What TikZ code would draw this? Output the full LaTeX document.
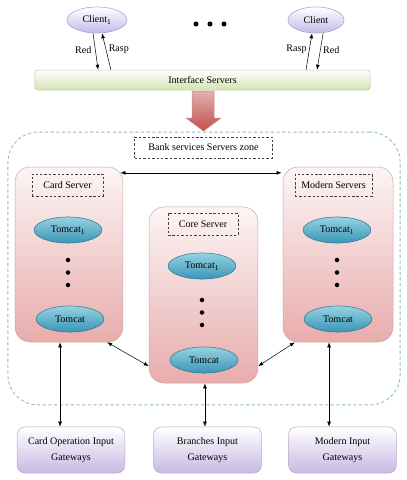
\documentclass[tikz,border=0pt]{standalone}
\usepackage{fontspec}
\setmainfont{Liberation Serif}
\usetikzlibrary{arrows.meta, positioning, shapes.geometric}

\definecolor{clientfill}{RGB}{196,186,232}
\definecolor{clientline}{RGB}{165,155,200}
\definecolor{catfill}{RGB}{58,150,182}
\definecolor{cattop}{RGB}{150,210,226}
\definecolor{catline}{RGB}{45,115,145}
\definecolor{panelfill}{RGB}{232,172,172}
\definecolor{panelline}{RGB}{205,165,165}
\definecolor{gatefill}{RGB}{200,185,226}
\definecolor{gateline}{RGB}{180,170,205}
\definecolor{ifacefill}{RGB}{212,226,178}
\definecolor{ifaceline}{RGB}{188,204,158}
\definecolor{zoneline}{RGB}{140,188,200}
\definecolor{bigarrow}{RGB}{192,80,77}

\begin{document}
\begin{tikzpicture}[x=0.028cm, y=-0.028cm, every node/.style={font=\footnotesize},
    client/.style={ellipse, draw=clientline, top color=white, bottom color=clientfill, minimum width=1.68cm, minimum height=0.73cm, inner sep=0pt},
    tomcat/.style={ellipse, draw=catline, top color=cattop, bottom color=catfill, minimum width=1.9cm, minimum height=0.73cm, inner sep=0pt},
    panel/.style={draw=panelline, rounded corners=0.42cm, top color=panelfill!12, bottom color=panelfill, minimum height=4.9cm},
    tag/.style={draw=black!75, dashed, dash pattern=on 2pt off 1.5pt, minimum height=0.62cm, inner sep=1pt},
    gate/.style={draw=gateline, rounded corners=0.22cm, top color=white, bottom color=gatefill, minimum width=3.02cm, minimum height=1.29cm, align=center},
    arr/.style={-{Latex[length=4pt,width=3pt]}, thin},
    darr/.style={{Latex[length=4pt,width=3pt]}-{Latex[length=4pt,width=3pt]}, thin},
    lbl/.style={inner sep=1pt}]
    \useasboundingbox (0,0) rectangle (407,480);

    % clients and interface
    \node[client] (c1) at (97,20) {Client\textsubscript{1}};
    \node[client, minimum width=1.57cm] (c2) at (316,20) {Client};
    \foreach \x in {196,210,224} \fill (\x,24) circle (2pt);
    \node[draw=ifaceline, rounded corners=2pt, top color=white, bottom color=ifacefill, minimum width=9.38cm, minimum height=0.56cm] (iface) at (202.5,80) {Interface Servers};

    \draw[arr] ([xshift=-0.11cm]c1.south) -- ([xshift=0.03cm]c1.south |- iface.north) node[lbl, pos=0.45, left=2pt] {Red};
    \draw[arr] ([xshift=0.39cm]c1.south |- iface.north) -- ([xshift=0.14cm]c1.south) node[lbl, pos=0.55, right=1pt] {Rasp};
    \draw[arr] ([xshift=-0.28cm]c2.south |- iface.north) -- ([xshift=-0.11cm]c2.south) node[lbl, pos=0.55, left=1pt] {Rasp};
    \draw[arr] ([xshift=0.2cm]c2.south) -- ([xshift=0.03cm]c2.south |- iface.north) node[lbl, pos=0.45, right=1pt] {Red};

    % servers zone
    \node[draw=zoneline, dashed, dash pattern=on 2.5pt off 2pt, line width=0.7pt, rounded corners=0.84cm, minimum width=10.98cm, minimum height=7.64cm] (zone) at (204,268.5) {};
    \path[draw=bigarrow!70, top color=bigarrow!45, bottom color=bigarrow] (192,91) -- (214,91) -- (214,118) -- (221,118) -- (203.5,131) -- (186,118) -- (192,118) -- cycle;
    \node[tag, minimum width=3.86cm, minimum height=0.59cm] (zonetag) at (203.5,147.5) {Bank services Servers zone};

    \node[panel, minimum width=3.02cm] (card) at (69,254.5) {};
    \node[panel, minimum width=3.05cm, minimum height=4.93cm] (core) at (203.5,295) {};
    \node[panel, minimum width=3.08cm] (modern) at (338,254.5) {};

    \node[tag, minimum width=1.99cm] (cardtag) at (67.5,185) {Card Server};
    \node[tag, minimum width=1.96cm] (coretag) at (203,224) {Core Server};
    \node[tag, minimum width=2.16cm] (moderntag) at (333.5,185) {Modern Servers};

    \node[tomcat] (card1) at (68,230) {Tomcat\textsubscript{1}};
    \node[tomcat] (cardn) at (70,319) {Tomcat};
    \node[tomcat] (core1) at (202,266) {Tomcat\textsubscript{1}};
    \node[tomcat] (coren) at (204,360) {Tomcat};
    \node[tomcat] (modern1) at (337,230) {Tomcat\textsubscript{1}};
    \node[tomcat] (modernn) at (338,319) {Tomcat};
    \foreach \x/\y in {68/260, 202/300, 337/260}
      \foreach \d in {0,12.5,25} \fill (\x,\y+\d) circle (1.8pt);

    \draw[darr] ([xshift=-0.08cm, yshift=-0.17cm]card.north east) -- ([xshift=-0.03cm, yshift=-0.17cm]modern.north west);
    \draw[darr] ([xshift=-0.45cm]card.south east) -- ([yshift=0.48cm]core.south west);
    \draw[darr] ([yshift=0.48cm]core.south east) -- ([xshift=0.34cm]modern.south west);

    % input gateways
    \node[gate] (gw1) at (71,450) {Card Operation Input\\[3pt]Gateways};
    \node[gate] (gw2) at (207.5,450) {Branches Input\\[3pt]Gateways};
    \node[gate] (gw3) at (342.5,450) {Modern Input\\[3pt]Gateways};

    \draw[darr] ([xshift=-0.25cm]card.south) -- ([xshift=-0.25cm]card.south |- gw1.north);
    \draw[darr] ([xshift=0.04cm]core.south) -- ([xshift=0.04cm]core.south |- gw2.north);
    \draw[darr] ([xshift=-0.25cm]modern.south) -- ([xshift=-0.25cm]modern.south |- gw3.north);
  \end{tikzpicture}
\end{document}
